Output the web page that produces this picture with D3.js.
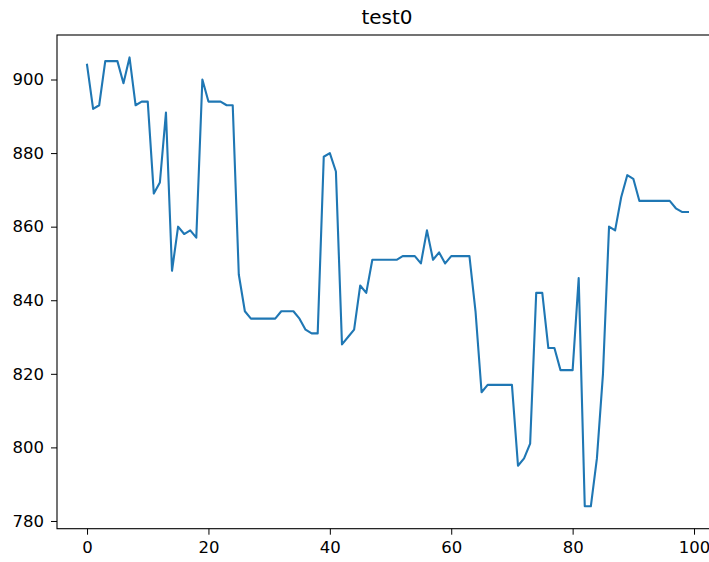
<!DOCTYPE html>
<html lang="en">
<head>
	<meta charset="utf-8">
	<title>test0</title>
	<script src="https://d3js.org/d3.v7.min.js"></script>
	<style type="text/css">
		body { margin: 0; background: #fff; }
		.axis text { font: 16.5px "DejaVu Sans", sans-serif; fill: #000; }
	</style>
</head>
<body>
	<script type="text/javascript">

	// window size
	var w = 709;
	var h = 562;
	var margin = {left: 57, top: 35, right: 718, bottom: 528.7};

	// data
	var xValues = d3.range(100);
	var yValues = [
		904, 892, 893, 905, 905, 905, 899, 906, 893, 894,
		894, 869, 872, 891, 848, 860, 858, 859, 857, 900,
		894, 894, 894, 893, 893, 847, 837, 835, 835, 835,
		835, 835, 837, 837, 837, 835, 832, 831, 831, 879,
		880, 875, 828, 830, 832, 844, 842, 851, 851, 851,
		851, 851, 852, 852, 852, 850, 859, 851, 853, 850,
		852, 852, 852, 852, 837, 815, 817, 817, 817, 817,
		817, 795, 797, 801, 842, 842, 827, 827, 821, 821,
		821, 846, 784, 784, 797, 820, 860, 859, 868, 874,
		873, 867, 867, 867, 867, 867, 867, 865, 864, 864
	];
	var xTicks = [0, 20, 40, 60, 80, 100];
	var yTicks = [780, 800, 820, 840, 860, 880, 900];

	// scales with matplotlib style 5% margins
	var xPad = (d3.max(xValues) - d3.min(xValues)) * 0.05;
	var yPad = (d3.max(yValues) - d3.min(yValues)) * 0.05;
	var xScale = d3.scaleLinear()
		.domain([d3.min(xValues) - xPad, d3.max(xValues) + xPad])
		.range([margin.left, margin.right]);
	var yScale = d3.scaleLinear()
		.domain([d3.min(yValues) - yPad, d3.max(yValues) + yPad])
		.range([margin.bottom, margin.top]);

	var svg = d3.select("body")
		.append("svg")
		.attr("width", w)
		.attr("height", h);

	// line
	var line = d3.line()
		.x((d, i) => xScale(xValues[i]))
		.y(d => yScale(d));

	svg.append("path")
		.datum(yValues)
		.attr("d", line)
		.attr("fill", "none")
		.attr("stroke", "#1f77b4")
		.attr("stroke-width", 2.1)
		.attr("stroke-linejoin", "round")
		.attr("stroke-linecap", "square");

	// frame
	svg.append("rect")
		.attr("x", margin.left)
		.attr("y", margin.top)
		.attr("width", margin.right - margin.left)
		.attr("height", margin.bottom - margin.top)
		.attr("fill", "none")
		.attr("stroke", "#000")
		.attr("stroke-width", 1.1);

	// axes
	var xAxis = d3.axisBottom(xScale).tickValues(xTicks).tickSize(6).tickPadding(7);
	var yAxis = d3.axisLeft(yScale).tickValues(yTicks).tickSize(6).tickPadding(7);

	svg.append("g")
		.attr("class", "axis")
		.attr("transform", "translate(0," + margin.bottom + ")")
		.call(xAxis)
		.call(g => g.select(".domain").remove());

	svg.append("g")
		.attr("class", "axis")
		.attr("transform", "translate(" + margin.left + ",0)")
		.call(yAxis)
		.call(g => g.select(".domain").remove());

	// title
	svg.append("text")
		.attr("x", 387)
		.attr("y", 24)
		.attr("text-anchor", "middle")
		.style("font", "20px 'DejaVu Sans', sans-serif")
		.text("test0");

	</script>
</body>
</html>
